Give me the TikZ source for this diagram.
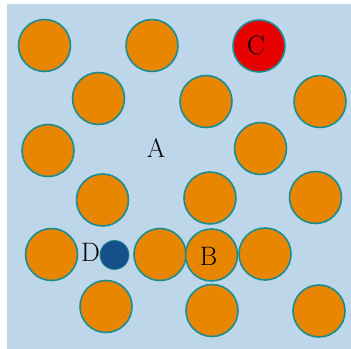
\documentclass[tikz,border=0pt]{standalone}
\definecolor{bgblue}{HTML}{BED6EA}
\definecolor{ballorange}{HTML}{E98600}
\definecolor{ballred}{HTML}{E60000}
\definecolor{balledge}{HTML}{1B8C8F}
\definecolor{dotblue}{HTML}{15508A}
\begin{document}
\begin{tikzpicture}[x=0.75pt,y=-0.75pt,
  ball/.style={circle,draw=balledge,line width=1.2pt,fill=ballorange,minimum size=52*0.75pt,inner sep=0pt},
  redball/.style={ball,fill=ballred},
  smallball/.style={circle,draw=balledge,line width=0.6pt,fill=dotblue,minimum size=29*0.75pt,inner sep=0pt},
  lbl/.style={font=\fontsize{20}{24}\selectfont,inner sep=0pt}]
\useasboundingbox (0,0) rectangle (351,349);
\fill[bgblue] (7,4) rectangle (351,349);
% first row
\node[ball] (b1) at (44.5,45.5) {};
\node[ball] (b2) at (152,45.5) {};
\node[redball] (c) at (259,46) {};
% second row
\node[ball] (b3) at (98.5,98.5) {};
\node[ball] (b4) at (206,101.5) {};
\node[ball] (b5) at (320,101.5) {};
% third row
\node[ball] (b6) at (48,150.5) {};
\node[ball] (b7) at (260.5,148.5) {};
% fourth row
\node[ball] (b8) at (102.5,200) {};
\node[ball] (b9) at (210,198) {};
\node[ball] (b10) at (315.5,197.5) {};
% fifth row
\node[ball] (b11) at (51.5,254.5) {};
\node[smallball] (d) at (114.5,255) {};
\node[ball] (b12) at (160,254.5) {};
\node[ball] (b) at (211.5,255) {};
\node[ball] (b13) at (265,254) {};
% sixth row
\node[ball] (b14) at (106,306.5) {};
\node[ball] (b15) at (212,310.5) {};
\node[ball] (b16) at (319,311) {};
% labels
\node[lbl] (la) at (156,148) {A};
\node[lbl] (lc) at (256,45.5) {C};
\node[lbl] (ld) at (90.5,252) {D};
\node[lbl] (lb) at (208.5,256) {B};
\end{tikzpicture}
\end{document}
